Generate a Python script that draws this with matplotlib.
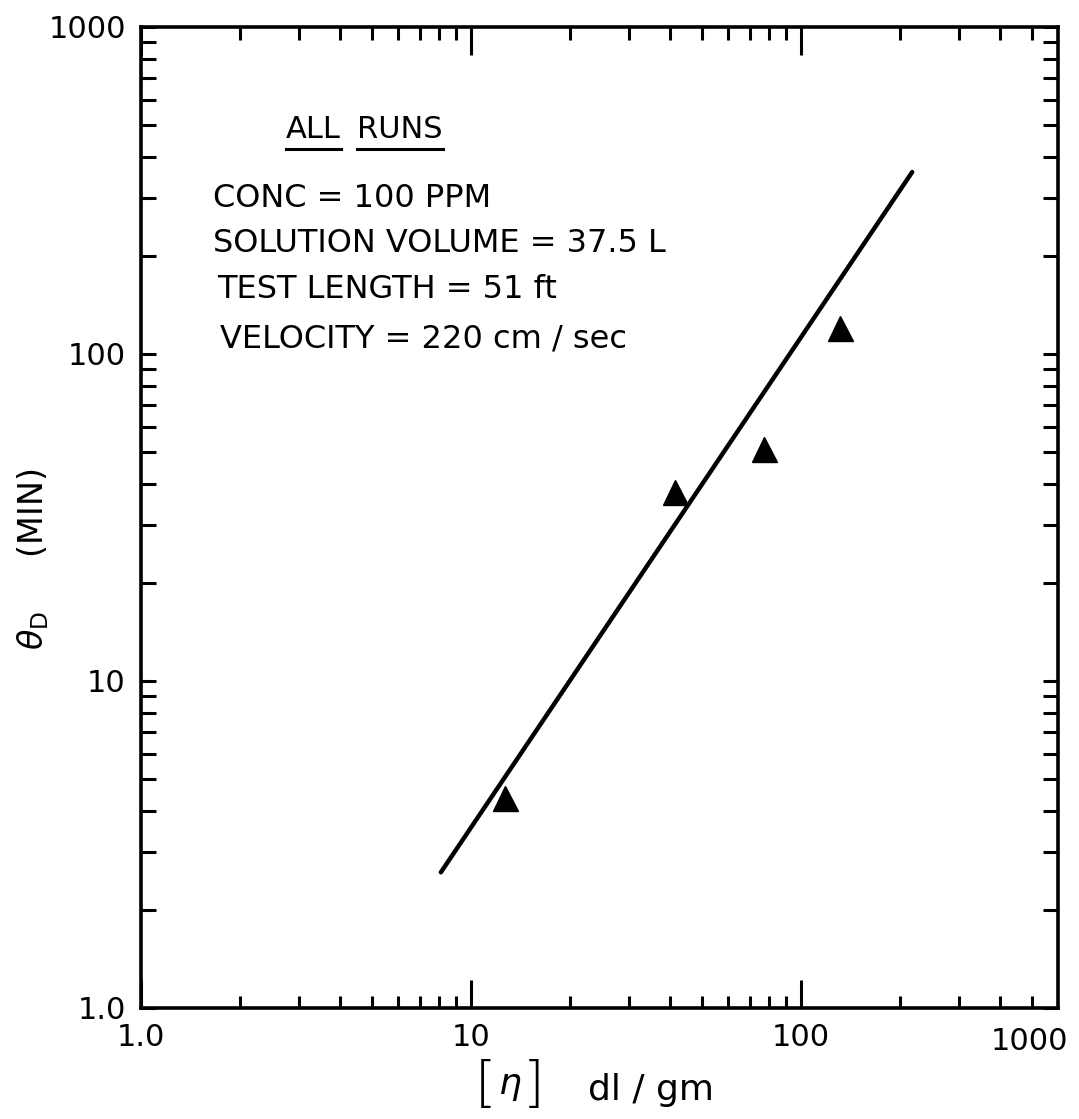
import matplotlib
matplotlib.use("Agg")
import matplotlib.pyplot as plt
from matplotlib.lines import Line2D
from matplotlib.ticker import FixedLocator, NullFormatter

# measured points: intrinsic viscosity vs. degradation time
eta = [12.7, 41.4, 77.2, 131]
theta = [4.4, 37.8, 51.2, 120]

# fitted line (slope 1.5 on log-log)
fit_x = [8.1, 217]
fit_y = [2.6, 360]

x_major = [1, 10, 100]
x_major_labels = ["1.0", "10", "100"]
y_major = [1, 10, 100, 1000]
y_major_labels = ["1.0", "10", "100", "1000"]

notes = [
    "CONC = 100 PPM",
    "SOLUTION VOLUME = 37.5 L",
    "TEST LENGTH = 51 ft",
    "VELOCITY = 220 cm / sec",
]

plt.rcParams["font.family"] = ["DejaVu Sans"]

fig = plt.figure(figsize=(10.79, 11.19), dpi=100)
ax = fig.add_axes([0.1307, 0.0992, 0.8498, 0.8767])

ax.plot(fit_x, fit_y, color="black", lw=3.2, solid_capstyle="round")
ax.plot(eta, theta, linestyle="none", marker="^", color="black", markersize=18)

ax.set_xscale("log")
ax.set_yscale("log")
ax.set_xlim(1, 600)
ax.set_ylim(1, 1000)

ax.xaxis.set_major_locator(FixedLocator(x_major))
ax.set_xticklabels(x_major_labels)
x_minor = [m * d for d in (1, 10, 100) for m in range(2, 10) if m * d < 600]
ax.xaxis.set_minor_locator(FixedLocator(x_minor))
ax.xaxis.set_minor_formatter(NullFormatter())

ax.yaxis.set_major_locator(FixedLocator(y_major))
ax.set_yticklabels(y_major_labels)
y_minor = [m * d for d in (1, 10, 100) for m in range(2, 10)]
ax.yaxis.set_minor_locator(FixedLocator(y_minor))
ax.yaxis.set_minor_formatter(NullFormatter())

ax.tick_params(which="both", direction="in", top=True, right=True,
               width=2.2, labelsize=22, pad=11)
ax.tick_params(axis="x", which="major", length=20)
ax.tick_params(axis="x", which="minor", length=9)
ax.tick_params(axis="y", which="major", length=11)
ax.tick_params(axis="y", which="minor", length=11)

for sp in ax.spines.values():
    sp.set_linewidth(2.6)

# top end of the scale is lettered 1000
ax.text(0.969, -0.019, "1000", transform=ax.transAxes, ha="center", va="top",
        fontsize=22)

ax.set_ylabel(r"$\theta_{\rm D}$     (MIN)", fontsize=24)
ax.yaxis.set_label_coords(-0.098, 0.457)

ax.set_xlabel("dl / gm", fontsize=26)
ax.xaxis.set_label_coords(0.556, -0.066)
# [eta] with tall square brackets
ax.text(0.376, -0.080, "[", transform=ax.transAxes, ha="center", va="center",
        fontsize=40, fontweight="light")
ax.text(0.402, -0.080, r"$\eta$", transform=ax.transAxes, ha="center",
        va="center", fontsize=26)
ax.text(0.428, -0.080, "]", transform=ax.transAxes, ha="center", va="center",
        fontsize=40, fontweight="light")

# heading with each word underlined
heading = []
for word, x0 in (("ALL", 0.158), ("RUNS", 0.236)):
    heading.append(ax.text(x0, 0.895, word, transform=ax.transAxes,
                           ha="left", va="center", fontsize=22))

note_pos = [(0.0785, 0.825), (0.0785, 0.779), (0.083, 0.732), (0.086, 0.682)]
for (nx, ny), s in zip(note_pos, notes):
    ax.text(nx, ny, s, transform=ax.transAxes, ha="left", va="center",
            fontsize=23)

fig.canvas.draw()
for t in heading:
    bb = t.get_window_extent()
    y = bb.y0 - 5
    fig.add_artist(Line2D([bb.x0, bb.x1], [y, y], transform=None,
                          color="black", lw=2.2))

fig.savefig("out.png", dpi=100, facecolor="white")
